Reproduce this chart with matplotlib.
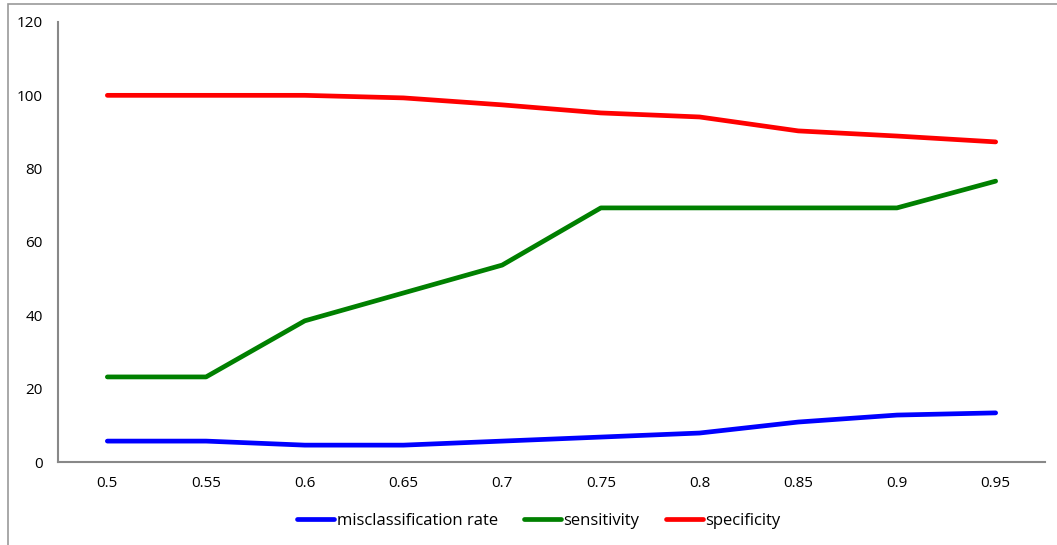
import matplotlib.pyplot as plt
import numpy as np
from matplotlib.patches import Rectangle

# Threshold categories and measured rates (%)
thresholds = ["0.5", "0.55", "0.6", "0.65", "0.7", "0.75", "0.8", "0.85", "0.9", "0.95"]
misclassification = [5.7, 5.7, 4.6, 4.6, 5.7, 6.8, 7.9, 10.9, 12.8, 13.4]
sensitivity = [23.2, 23.2, 38.5, 46.1, 53.7, 69.3, 69.3, 69.3, 69.3, 76.6]
specificity = [100, 100, 100, 99.3, 97.4, 95.2, 94.1, 90.3, 88.9, 87.3]

plt.rcParams['font.family'] = ['Open Sans', 'DejaVu Sans']

fig = plt.figure(figsize=(10.57, 5.45), dpi=100)
ax = fig.add_axes([58/1057, 83/545, (1045-58)/1057, (462-22)/545])

# chart border (Excel style)
fig.patches.append(Rectangle((8/1057, -0.1), 1.2, (545-4)/545 + 0.1,
                             transform=fig.transFigure, fill=False,
                             edgecolor='#999999', linewidth=1.2))

x = np.arange(len(thresholds))
ax.plot(x, misclassification, color='#0000ff', lw=3.4, solid_capstyle='round',
        label='misclassification rate')
ax.plot(x, sensitivity, color='#008000', lw=3.4, solid_capstyle='round',
        label='sensitivity')
ax.plot(x, specificity, color='#ff0000', lw=3.4, solid_capstyle='round',
        label='specificity')

ax.set_xlim(-0.5, len(thresholds) - 0.5)
ax.set_ylim(0, 120)
ax.set_yticks(range(0, 121, 20))
ax.set_xticks(x)
ax.set_xticklabels(thresholds)

for s in ['top', 'right']:
    ax.spines[s].set_visible(False)
for s in ['left', 'bottom']:
    ax.spines[s].set_color('#888888')
    ax.spines[s].set_linewidth(1.5)
ax.tick_params(length=0, labelsize=11, colors='black')
ax.tick_params(axis='y', pad=11)
ax.tick_params(axis='x', pad=10)

fig.legend(loc='center', bbox_to_anchor=(0.51, (545-521)/545),
           ncol=3, frameon=False, fontsize=12, handlelength=2.2,
           handletextpad=0.15, columnspacing=1.6)

fig.savefig('out.png', dpi=100)
